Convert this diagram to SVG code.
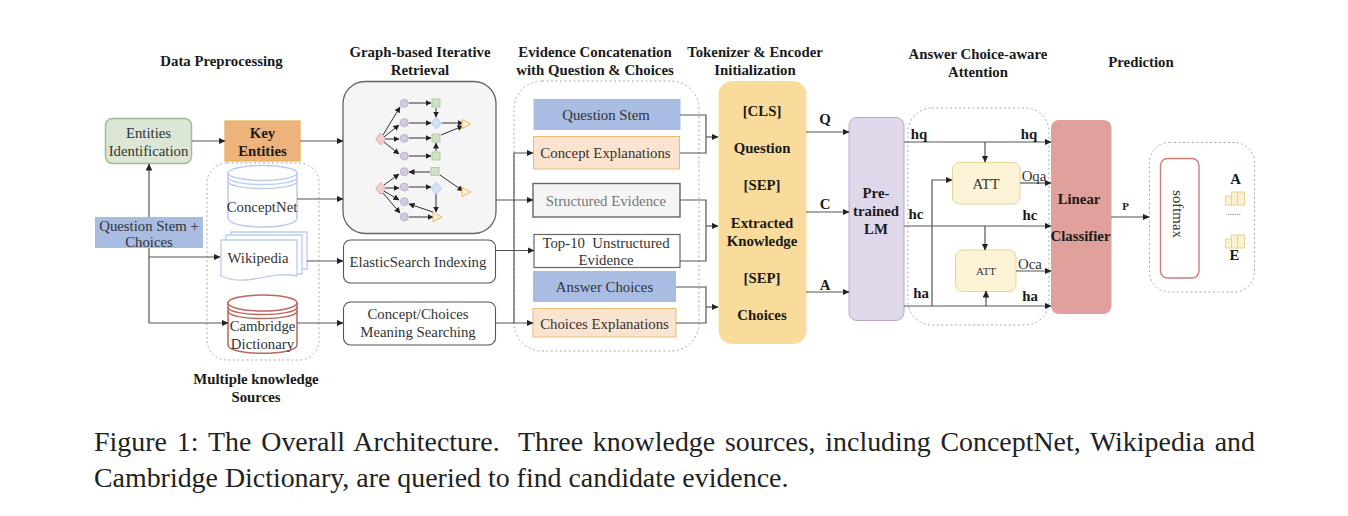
<svg xmlns="http://www.w3.org/2000/svg" width="1348" height="516" viewBox="0 0 1348 516">
<style>
text{font-family:"Liberation Serif","Times New Roman",serif;fill:#333;font-size:14.800px;text-anchor:middle}
.b{font-weight:bold;fill:#1a1a1a;font-size:14.800px}
.t{font-weight:bold;fill:#1a1a1a;font-size:14.800px}
.l{fill:none;stroke:#555;stroke-width:1.200}
.a{fill:none;stroke:#555;stroke-width:1.200;marker-end:url(#ar)}
.g{fill:none;stroke:#333;stroke-width:1;marker-end:url(#sm)}
.d{fill:none;stroke:#aaa;stroke-width:1;stroke-dasharray:2 2.500}
.c{fill:#d3c9e0;stroke:#b8a9cc;stroke-width:.8}
.s{fill:#cfe0c3;stroke:#a9c596;stroke-width:.8}
.r{fill:#f2cfcb;stroke:#d99a94;stroke-width:.8}
.u{fill:#d3e0f5;stroke:#a9c0e6;stroke-width:.8}
.y{fill:#fdf0d5;stroke:#e8b95f;stroke-width:1}
.bar{fill:#fbf1cf;stroke:#e6d298;stroke-width:1}
.cap{font-size:27.900px;text-anchor:start;fill:#222}
</style>
<defs>
<marker id="ar" markerWidth="8" markerHeight="8" refX="6.500" refY="3.500" orient="auto" markerUnits="userSpaceOnUse"><path d="M0 .2L7 3.500L0 6.800Z" fill="#222"/></marker>
<marker id="sm" markerWidth="7" markerHeight="7" refX="5.500" refY="3" orient="auto" markerUnits="userSpaceOnUse"><path d="M0 0L6 3L0 6Z" fill="#222"/></marker>
</defs>

<g id="headers">
<text class="b" x="221.500" y="66">Data Preprocessing</text>
<text class="b" x="420" y="57">Graph-based Iterative</text><text class="b" x="420" y="75">Retrieval</text>
<text class="b" x="595" y="57">Evidence Concatenation</text><text class="b" x="595" y="75">with Question &amp; Choices</text>
<text class="b" x="755" y="57">Tokenizer &amp; Encoder</text><text class="b" x="755" y="75">Initialization</text>
<text class="b" x="978" y="59">Answer Choice-aware</text><text class="b" x="978" y="77">Attention</text>
<text class="b" x="1141" y="67">Prediction</text>
<text class="b" x="256" y="384">Multiple knowledge</text><text class="b" x="256" y="402">Sources</text>
</g>

<g id="groups">
<rect class="d" x="207" y="163" width="112" height="197" rx="20"/>
<rect class="d" x="514" y="81" width="185" height="270" rx="28"/>
<rect class="d" x="908" y="108" width="141" height="217" rx="24"/>
</g>

<g id="entities-identification"><rect x="105.500" y="118.500" width="86" height="45" rx="7" fill="#dbe6d5" stroke="#a3bb8f" stroke-width="1.500"/><text x="148.500" y="138">Entities</text><text x="148.500" y="156">Identification</text></g>
<g id="key-entities"><rect x="225" y="121" width="75" height="40" fill="#eeb37c" stroke="#e3b24f" stroke-width="1.200"/><text class="t" x="262.500" y="138">Key</text><text class="t" x="262.500" y="156">Entities</text></g>

<g id="conceptnet">
<path d="M228 173V218C228 230 297 230 297 218V173" fill="#fff" stroke="#bcccee" stroke-width="1.500"/>
<ellipse cx="262.500" cy="173" rx="34.500" ry="7.500" fill="#fff" stroke="#bcccee" stroke-width="1.500"/>
<path d="M228 177C228 187 297 187 297 177M228 181C228 191 297 191 297 181" fill="none" stroke="#bcccee" stroke-width="1.500"/>
<text x="262" y="212">ConceptNet</text></g>

<g id="wikipedia">
<path d="M231 238V232H307V269H302" fill="#fff" stroke="#bcccee" stroke-width="1.300"/>
<path d="M226 240V235H302V274H297" fill="#fff" stroke="#bcccee" stroke-width="1.300"/>
<path d="M221 240H297V276C272 270 246 288 221 276Z" fill="#fff" stroke="#bcccee" stroke-width="1.300"/>
<text x="258" y="263">Wikipedia</text></g>

<g id="cambridge">
<path d="M228 302V345C228 356 297 356 297 345V302" fill="#fff" stroke="#b8685f" stroke-width="1.500"/>
<ellipse cx="262.500" cy="303" rx="34.500" ry="8" fill="#fff" stroke="#b8685f" stroke-width="1.500"/>
<path d="M228 307C228 317 297 317 297 307M228 311C228 321 297 321 297 311" fill="none" stroke="#b8685f" stroke-width="1.500"/>
<text x="262.500" y="331">Cambridge</text><text x="262.500" y="349">Dictionary</text></g>

<g id="graph-retrieval">
<rect x="343" y="81.500" width="153" height="152" rx="22" fill="#f5f5f5" stroke="#666" stroke-width="1.300"/>
<g>
<path class="g" d="M383 135L400 107"/><path class="g" d="M384 137L399 125"/><path class="g" d="M385 139L399 139"/><path class="g" d="M384 142L399 154"/>
<path class="g" d="M409 103H431"/><path class="g" d="M409 123H431"/><path class="g" d="M409 138H431"/><path class="g" d="M409 156H431"/>
<path class="g" d="M436 108V117"/><path class="g" d="M436 151V143"/><path class="g" d="M442 123H463"/><path class="g" d="M441 135L463 126"/>
<path class="g" d="M430 172H409"/><path class="g" d="M440 175L463 191"/><path class="g" d="M384 185L399 174"/><path class="g" d="M385 188H399"/><path class="g" d="M384 191L399 200"/><path class="g" d="M383 193L400 213"/>
<path class="g" d="M409 187H431"/><path class="g" d="M436 194V212"/><path class="g" d="M433 212L409 204"/><path class="g" d="M409 217H433"/>
</g>
<circle class="c" cx="404.300" cy="103.300" r="4"/><circle class="c" cx="404.300" cy="122.700" r="4"/><circle class="c" cx="404.300" cy="138.300" r="4"/><circle class="c" cx="404.300" cy="156" r="4"/>
<circle class="c" cx="404.300" cy="171.700" r="4"/><circle class="c" cx="404.300" cy="187" r="4"/><circle class="c" cx="404.300" cy="201.700" r="4"/><circle class="c" cx="404.300" cy="217" r="4"/>
<rect class="s" x="432" y="99" width="8" height="8"/><rect class="s" x="432" y="134" width="8" height="8"/><rect class="s" x="432" y="152" width="8" height="8"/><rect class="s" x="431" y="167.500" width="8" height="8"/>
<path class="r" d="M380.700 133L385.700 139L380.700 145L375.700 139Z"/><path class="r" d="M380.700 182.500L385.700 188.500L380.700 194.500L375.700 188.500Z"/>
<path class="u" d="M436.300 117L441.300 123L436.300 129L431.300 123Z"/><path class="u" d="M436.300 182.500L441.300 188.500L436.300 194.500L431.300 188.500Z"/>
<path class="y" d="M462 119.500L471 124L462 128.500Z"/><path class="y" d="M462 187.500L471 192L462 196.500Z"/><path class="y" d="M433 212.500L442 217L433 221.500Z"/>
</g>

<g id="elastic"><rect x="343.500" y="240" width="152" height="43" rx="7" fill="#fff" stroke="#555" stroke-width="1.100"/><text x="418" y="267">ElasticSearch Indexing</text></g>
<g id="meaning"><rect x="343.500" y="302" width="152" height="43" rx="7" fill="#fff" stroke="#555" stroke-width="1.100"/><text x="418" y="319">Concept/Choices</text><text x="418" y="337">Meaning Searching</text></g>

<g id="question-stem"><rect x="533.500" y="99" width="147" height="31" fill="#a9bde3"/><text x="606" y="120">Question Stem</text></g>
<g id="concept-explanations"><rect x="533.500" y="136.500" width="146" height="32.500" fill="#fae3cf" stroke="#e8bd72" stroke-width="1"/><text x="605.500" y="158">Concept Explanations</text></g>
<g id="structured-evidence"><rect x="533" y="183.500" width="147" height="33.500" fill="#f5f5f5" stroke="#666" stroke-width="1.400"/><text x="606" y="206" style="fill:#777">Structured Evidence</text></g>
<g id="unstructured-evidence"><rect x="534" y="234.500" width="146" height="33" fill="#fff" stroke="#666" stroke-width="1.200"/><text x="606" y="248" style="white-space:pre">Top-10  Unstructured</text><text x="606" y="265">Evidence</text></g>
<g id="answer-choices"><rect x="533" y="271" width="143" height="31" fill="#a9bde3"/><text x="604.500" y="292">Answer Choices</text></g>
<g id="choices-explanations"><rect x="533" y="308.500" width="143" height="28.500" fill="#fae3cf" stroke="#e8bd72" stroke-width="1"/><text x="604.500" y="329">Choices Explanations</text></g>

<g id="tokenizer"><rect x="718.500" y="81" width="88" height="263" rx="14" fill="#f9dc9c"/>
<text class="t" x="762" y="116">[CLS]</text><text class="t" x="762" y="153">Question</text><text class="t" x="762" y="190">[SEP]</text><text class="t" x="762" y="228">Extracted</text><text class="t" x="762" y="246">Knowledge</text><text class="t" x="762" y="283">[SEP]</text><text class="t" x="762" y="320">Choices</text></g>

<g id="pretrained-lm"><rect x="849" y="117.500" width="55" height="203" rx="8" fill="#e0d8ea" stroke="#b7a8cc" stroke-width="1"/><text class="t" x="876" y="198">Pre-</text><text class="t" x="876" y="216">trained</text><text class="t" x="876" y="234">LM</text></g>

<g id="att-1"><rect x="952.500" y="162.500" width="67.500" height="41.500" rx="7" fill="#fdf3d6" stroke="#e6d59a" stroke-width="1"/><text x="986" y="189">ATT</text></g>
<g id="att-2"><rect x="955.500" y="250" width="60.500" height="41.500" rx="7" fill="#fdf3d6" stroke="#e6d59a" stroke-width="1"/><text x="986" y="275" style="font-size:11px">ATT</text></g>

<g id="classifier"><rect x="1051" y="120" width="60.500" height="194" rx="8" fill="#e0a09b"/><text class="t" x="1079" y="204">Linear</text><text class="t" x="1080.500" y="241">Classifier</text></g>

<g id="prediction">
<rect class="d" x="1149.500" y="142.500" width="105" height="149.500" rx="20"/>
<rect x="1160.500" y="158.500" width="38.500" height="119.500" rx="7" fill="#fff" stroke="#d07c76" stroke-width="1.400"/>
<text transform="translate(1173 214) rotate(90)">softmax</text>
<text class="t" x="1235.500" y="184">A</text>
<rect class="bar" x="1225.500" y="196" width="6" height="9"/><rect class="bar" x="1231.500" y="192" width="6" height="13"/><rect class="bar" x="1237.500" y="192" width="7" height="13"/>
<text x="1234" y="215" style="font-size:9px">......</text>
<rect class="bar" x="1225.500" y="239" width="6" height="9"/><rect class="bar" x="1231.500" y="235" width="6" height="13"/><rect class="bar" x="1237.500" y="235" width="7" height="13"/>
<text class="t" x="1234.500" y="260">E</text>
</g>

<g id="connectors">
<path class="a" d="M192 141H225"/>
<path class="a" d="M300 141H343"/>
<path class="a" d="M149 217V164"/>
<path class="l" d="M149 248V323"/>
<path class="a" d="M149 257H220"/>
<path class="a" d="M149 323H228"/>
<path class="a" d="M297 199H343"/>
<path class="a" d="M307 261H343"/>
<path class="a" d="M297 323H343"/>
<path class="a" d="M496 200H533"/>
<path class="a" d="M496 250.500H534"/>
<path class="a" d="M496 323H533"/>
<path class="a" d="M514 323V153H533"/>
<path class="l" d="M680 115H706V153H680"/><path class="a" d="M706 137H718"/>
<path class="l" d="M680 200H706V261H680"/><path class="a" d="M706 226H718"/>
<path class="l" d="M676 287H706V323H676"/><path class="a" d="M706 307H718"/>
<path class="a" d="M806 132H849"/><path class="a" d="M806 212H849"/><path class="a" d="M806 292H849"/>
<path class="a" d="M904 142H1051"/><path class="a" d="M904 226H1051"/><path class="a" d="M904 306H1051"/>
<path class="a" d="M985 142V162"/><path class="a" d="M985 226V250"/><path class="a" d="M986 306V291"/>
<path class="a" d="M932 306V180H952"/>
<path class="a" d="M1020 183H1051"/><path class="a" d="M1016 271H1051"/>
<path class="a" d="M1111 217H1149"/>
</g>

<g id="question-input"><rect x="95" y="217" width="108" height="31" fill="#a9bde3"/><text x="149" y="231">Question Stem +</text><text x="149" y="247">Choices</text></g>

<g id="connector-labels">
<text class="t" x="825" y="124">Q</text><text class="t" x="825" y="209">C</text><text class="t" x="825" y="290">A</text>
<text class="t" x="919" y="139">hq</text><text class="t" x="1029" y="139">hq</text>
<text class="t" x="916" y="219">hc</text><text class="t" x="1030" y="220">hc</text>
<text class="t" x="921" y="298">ha</text><text class="t" x="1030" y="301">ha</text>
<text x="1034" y="181">Oqa</text><text x="1030" y="269">Oca</text>
<text class="t" x="1125.500" y="210" style="font-size:11px">P</text>
</g>

<g id="caption">
<text class="cap" x="94" y="451" style="word-spacing:3px">Figure 1: The Overall Architecture.</text>
<text class="cap" x="1255" y="451" style="text-anchor:end;word-spacing:2.800px">Three knowledge sources, including ConceptNet, Wikipedia and</text>
<text class="cap" x="94" y="487">Cambridge Dictionary, are queried to find candidate evidence.</text>
</g>
</svg>
